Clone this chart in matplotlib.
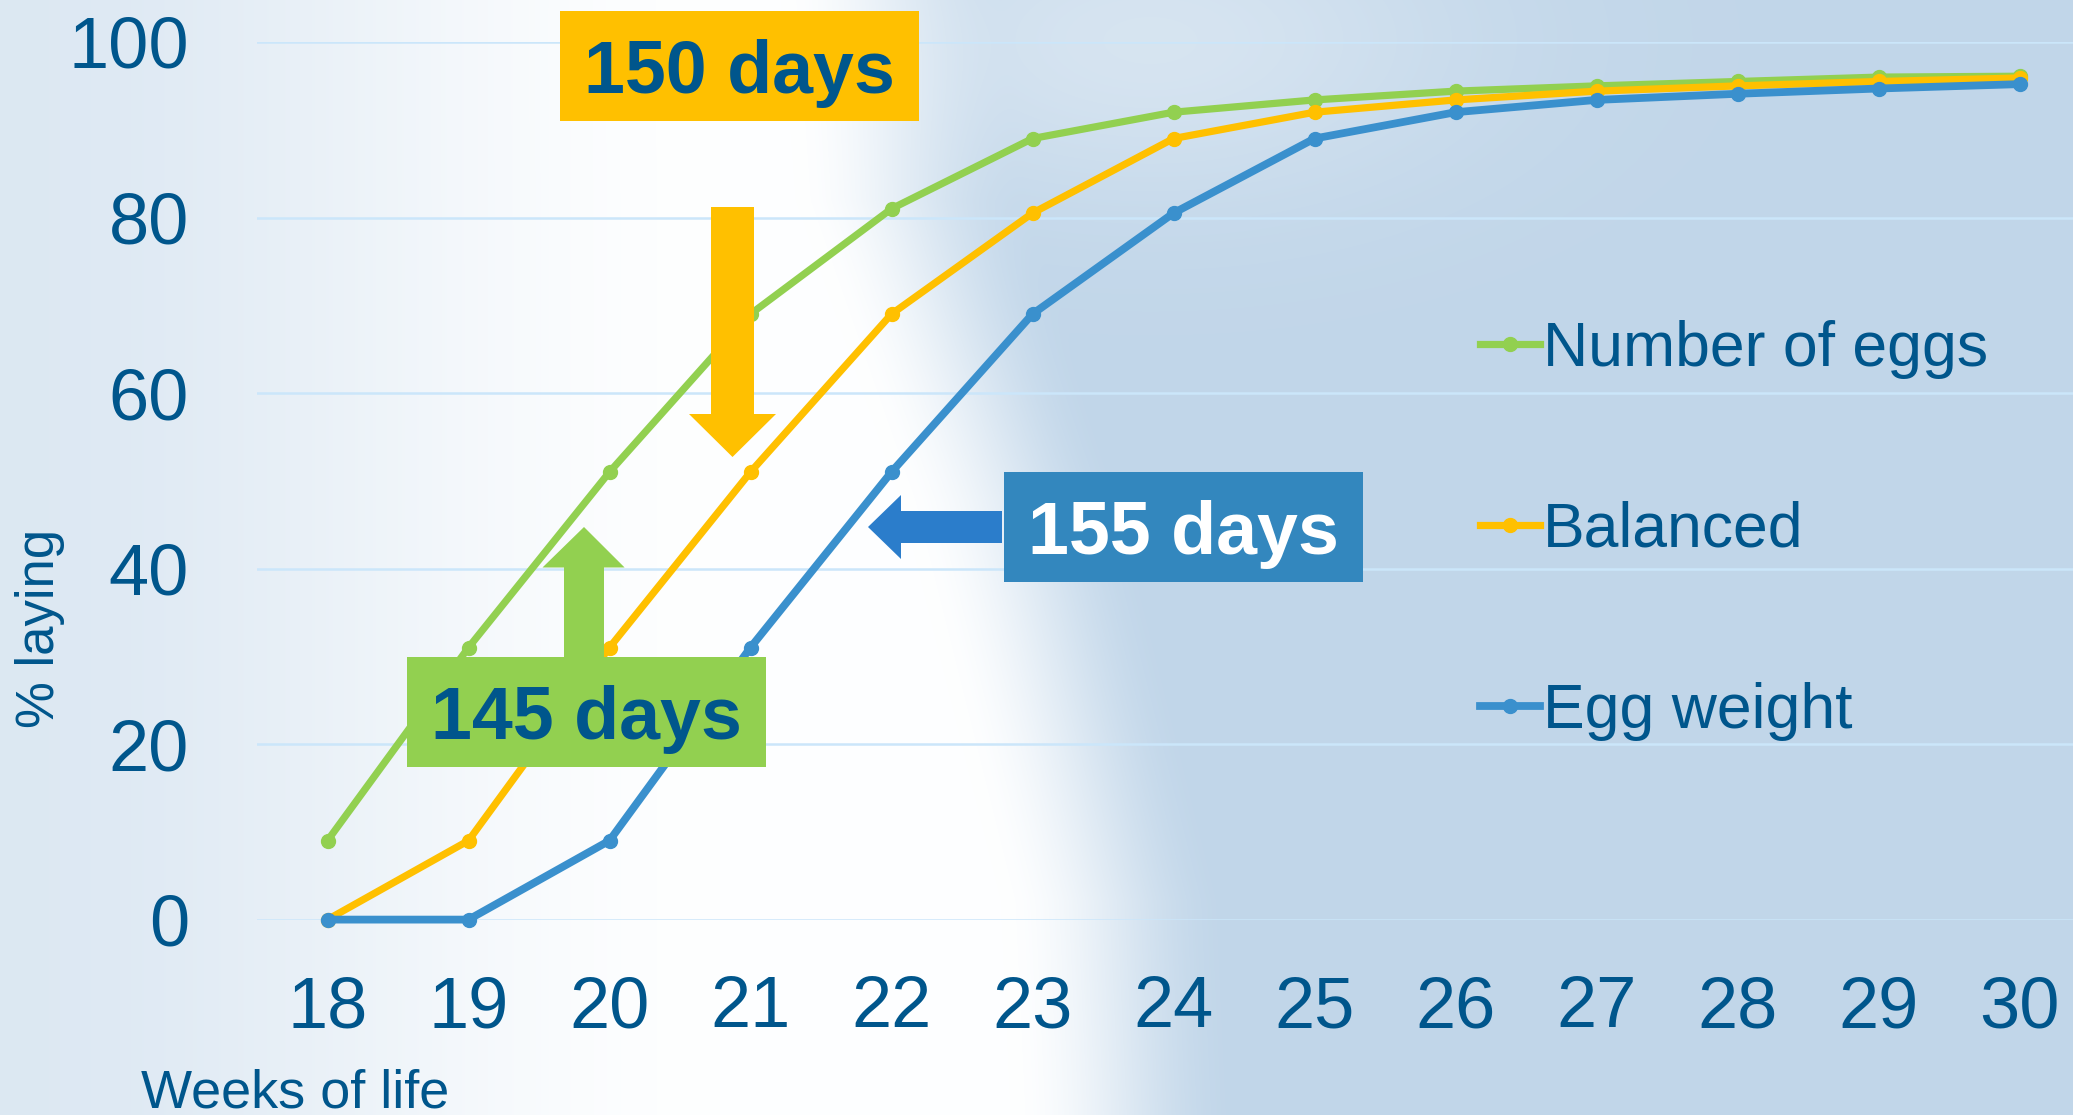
import numpy as np
import matplotlib.pyplot as plt
from matplotlib.patches import Polygon, Rectangle
from matplotlib.transforms import Affine2D

W, H = 2073, 1115
DPI = 100

# laying curves, % of hens laying per week of life
weeks = list(range(18, 31))
number_of_eggs = [9, 31, 51, 69, 81, 89, 92, 93.4, 94.4, 95.0, 95.5, 96.0, 96.1]
balanced = [0, 9, 31, 51, 69, 80.5, 89, 92, 93.4, 94.4, 95.0, 95.5, 95.9]
egg_weight = [0, 0, 9, 31, 51, 69, 80.5, 89, 92, 93.4, 94.1, 94.7, 95.2]
series_names = ["Number of eggs", "Balanced", "Egg weight"]
y_ticks = [0, 20, 40, 60, 80, 100]
day_labels = ["150 days", "145 days", "155 days"]

GREEN = "#92D050"
GOLD = "#FFC000"
BLUE = "#3A90CD"
ARROW_BLUE = "#2B7DCB"
BOX_BLUE = "#3387BE"
NAVY = "#00568C"
GRID = "#CBE6FA"

plt.rcParams['font.family'] = ['Liberation Sans', 'DejaVu Sans']


def smooth(t):
    t = np.clip(t, 0, 1)
    return t * t * (3 - 2 * t)


def background():
    yy, xx = np.mgrid[0:H, 0:W].astype(float)
    pale = np.array([0.865, 0.91, 0.952])
    white = np.array([0.995, 0.998, 1.0])
    steel = np.array([0.758, 0.84, 0.915])
    w = smooth(xx / 720)
    inner = pale * (1 - w)[..., None] + white * w[..., None]
    # soft edge of the bright glow, bulging to the right lower down
    edge = np.interp(yy, [0, 200, 500, 900, 1115],
                     [890, 905, 1010, 1110, 1120])
    m = smooth((xx - edge + 110) / 230)
    img = inner * (1 - m)[..., None] + steel * m[..., None]
    # faint lighter haze near the top middle
    haze = 0.35 * np.exp(-(((xx - 1150) / 320) ** 2 + ((yy - 40) / 160) ** 2))
    return img * (1 - haze)[..., None] + white * haze[..., None]


def block_arrow(pts, color):
    fig.add_artist(Polygon(pts, closed=True, transform=px, color=color,
                           lw=0, zorder=5))


def label_box(x, y, text, face, fg):
    w, h = 359, 110
    fig.add_artist(Rectangle((x, y), w, h, transform=px, color=face,
                             lw=0, zorder=5))
    fig.text(x + w / 2, y + h / 2 + 27, text, transform=px, ha='center',
             va='baseline', fontsize=53, fontweight='bold', color=fg,
             zorder=6)


fig = plt.figure(figsize=(W / DPI, H / DPI), dpi=DPI)
px = Affine2D().scale(1 / W, -1 / H).translate(0, 1) + fig.transFigure

bg = fig.add_axes([0, 0, 1, 1], zorder=0)
bg.imshow(background(), aspect='auto', extent=[0, 1, 0, 1], origin='upper')
bg.set_xlim(0, 1)
bg.set_ylim(0, 1)
bg.axis('off')

left_px, zero_px, top_px, step = 257, 919.6, 42, 141
ax = fig.add_axes([left_px / W, (H - zero_px) / H, 1 - left_px / W,
                   (zero_px - top_px) / H], zorder=1)
ax.patch.set_alpha(0)

lines = []
for vals, col, lw in [(number_of_eggs, GREEN, 5.2), (balanced, GOLD, 5.2),
                      (egg_weight, BLUE, 5.6)]:
    ln, = ax.plot(weeks, vals, color=col, lw=lw, marker='o', ms=10,
                  clip_on=False, solid_joinstyle='round')
    lines.append(ln)

ax.set_xlim(17.5, 17.5 + (W - left_px) / step)
ax.set_ylim(0, 100)
ax.set_xticks(weeks)
ax.set_yticks(y_ticks)
ax.yaxis.grid(True, color=GRID, lw=1.8)
ax.set_axisbelow(True)
for s in ax.spines.values():
    s.set_visible(False)
ax.tick_params(length=0, labelsize=52, labelcolor=NAVY)
ax.tick_params(axis='y', pad=49)
ax.tick_params(axis='x', pad=40)

fig.text(40 / W, 1 - 628 / H, "% laying", rotation=90, ha='center',
         va='center', fontsize=38, color=NAVY)
fig.text(141 / W, 1 - 1068 / H, "Weeks of life", ha='left', va='top',
         fontsize=39, color=NAVY)

ax.legend(lines, series_names, loc='upper left',
          bbox_to_anchor=(1480 / W, 1 - 320 / H),
          bbox_transform=fig.transFigure, frameon=False, fontsize=45,
          handlelength=0.96, handletextpad=0.05, labelspacing=1.95,
          borderpad=0, borderaxespad=0, labelcolor=NAVY)

# arrows and day callouts
block_arrow([(711, 207), (754, 207), (754, 414), (776, 414), (732.5, 457),
             (689, 414), (711, 414)], GOLD)
block_arrow([(564, 657), (564, 567.5), (542.5, 567.5), (584, 527),
             (624.6, 567.5), (604, 567.5), (604, 657)], GREEN)
block_arrow([(1002, 511), (901, 511), (901, 495), (868, 527), (901, 559),
             (901, 543), (1002, 543)], ARROW_BLUE)

label_box(560, 11, day_labels[0], GOLD, NAVY)
label_box(407, 657, day_labels[1], GREEN, NAVY)
label_box(1004, 472, day_labels[2], BOX_BLUE, "white")

fig.savefig("out.png", dpi=DPI)
